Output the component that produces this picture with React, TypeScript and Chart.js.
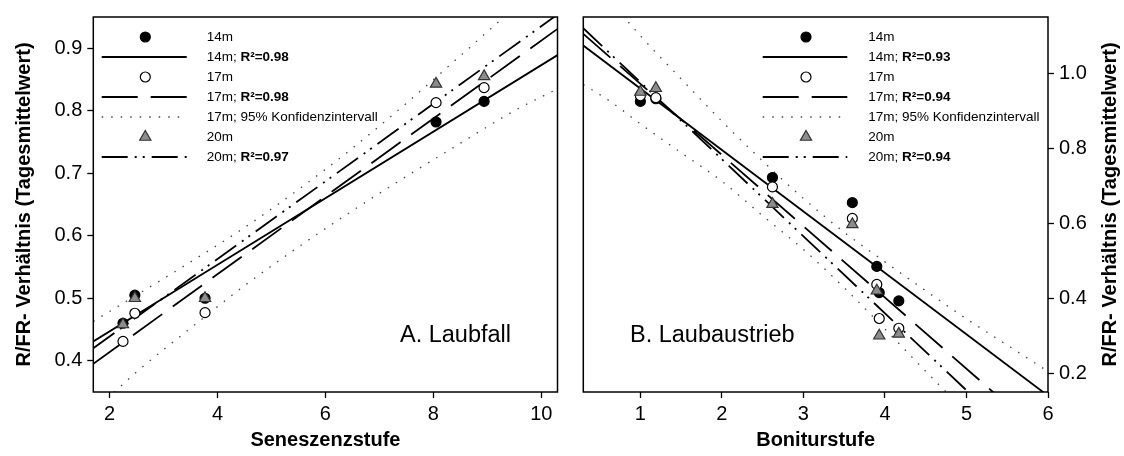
import React, { useEffect, useRef } from "react";
import { Chart, registerables } from "chart.js";

Chart.register(...registerables);

const FONT = "'Liberation Sans', Arial, Helvetica, sans-serif";

// ---------------- Panel A: Laubfall ----------------
const A_X = [2.25, 2.47, 3.77, 8.05, 8.94];
const A_14M = [0.46, 0.505, 0.5, 0.782, 0.815];
const A_17M = [0.431, 0.476, 0.477, 0.813, 0.837];
const A_20M = [0.458, 0.5, 0.5, 0.843, 0.855];
const A_FIT_X = [1.7, 10.3];
const A_FIT_14M = [0.431, 0.889];
const A_FIT_17M = [0.395, 0.931];
const A_FIT_20M = [0.42, 0.954];
const A_CI_X = [1.7, 2.5, 3.5, 4.5, 5.5, 6.5, 7.5, 8.5, 9.5, 10.3];
const A_CI_UP = [0.463, 0.505, 0.558, 0.613, 0.674, 0.74, 0.812, 0.888, 0.965, 1.027];
const A_CI_LO = [0.318, 0.382, 0.452, 0.52, 0.582, 0.64, 0.695, 0.748, 0.8, 0.835];
const A_R2 = ["0.98", "0.98", "0.97"];
const A_X_TICKS = [2, 4, 6, 8, 10];
const A_Y_TICKS = [0.4, 0.5, 0.6, 0.7, 0.8, 0.9];
const A_X_RANGE = [1.7, 10.3];
const A_Y_RANGE = [0.35, 0.95];

// ---------------- Panel B: Laubaustrieb ----------------
const B_X = [1.0, 1.19, 2.62, 3.6, 3.9, 3.93, 4.17];
const B_14M = [0.925, 0.932, 0.722, 0.655, 0.485, 0.415, 0.393];
const B_17M = [0.94, 0.935, 0.697, 0.613, 0.437, 0.346, 0.32];
const B_20M = [0.95, 0.96, 0.651, 0.597, 0.42, 0.3, 0.305];
const B_FIT_X = [0.3, 6.0];
const B_FIT_14M = [1.074, 0.14];
const B_FIT_17M = [1.105, 0.022];
const B_FIT_20M = [1.12, -0.051];
const B_CI_UP_X = [0.7, 1.0, 1.5, 2.0, 2.5, 3.0, 3.5, 4.0, 4.5, 5.0, 5.5, 6.0];
const B_CI_UP = [1.175, 1.1, 0.985, 0.872, 0.766, 0.666, 0.576, 0.497, 0.42, 0.345, 0.275, 0.205];
const B_CI_LO_X = [0.3, 0.63, 1.0, 1.5, 2.0, 2.5, 3.0, 3.5, 4.0, 4.5, 4.75, 5.0];
const B_CI_LO = [0.97, 0.925, 0.865, 0.788, 0.712, 0.62, 0.53, 0.428, 0.318, 0.205, 0.15, 0.095];
const B_R2 = ["0.93", "0.94", "0.94"];
const B_X_TICKS = [1, 2, 3, 4, 5, 6];
const B_Y_TICKS = [0.2, 0.4, 0.6, 0.8, 1.0];
const B_X_RANGE = [0.3, 6.0];
const B_Y_RANGE = [0.15, 1.15];

const Y_TITLE = "R/FR- Verhältnis (Tagesmittelwert)";

// ---------------- styles ----------------
type Marker = { style: "circle" | "triangle"; r: number; bg: string; border: string };
const M14: Marker = { style: "circle", r: 5, bg: "#000", border: "#000" };
const M17: Marker = { style: "circle", r: 5, bg: "#fff", border: "#000" };
const M20: Marker = { style: "triangle", r: 6.5, bg: "#8c8c8c", border: "#333" };
const L_SOLID = { dash: [] as number[], width: 1.8, color: "#000" };
const L_17 = { dash: [36, 13], width: 1.8, color: "#000" };
const L_20 = { dash: [26, 7, 2, 6, 2, 7], width: 1.8, color: "#000" };
const L_CI = { dash: [1.5, 8], width: 1.3, color: "#444" };

const pts = (xs: number[], ys: number[]) => xs.map((x, i) => ({ x, y: ys[i] }));

const scatterDs = (label: string, xs: number[], ys: number[], m: Marker, order: number) => ({
  label,
  data: pts(xs, ys),
  showLine: false,
  pointStyle: m.style,
  pointRadius: m.r,
  pointHoverRadius: m.r,
  pointBackgroundColor: m.bg,
  pointBorderColor: m.border,
  pointBorderWidth: 1.2,
  order,
});

const lineDs = (label: string, xs: number[], ys: number[], l: any, order: number) => ({
  label,
  data: pts(xs, ys),
  showLine: true,
  pointRadius: 0,
  pointHoverRadius: 0,
  borderColor: l.color,
  borderWidth: l.width,
  borderDash: l.dash,
  fill: false,
  cubicInterpolationMode: "monotone",
  order,
});

function drawMarker(ctx: CanvasRenderingContext2D, x: number, y: number, m: Marker) {
  ctx.save();
  ctx.beginPath();
  if (m.style === "circle") {
    ctx.arc(x, y, m.r, 0, Math.PI * 2);
  } else {
    let rad = 0;
    const T = (Math.PI * 2) / 3;
    ctx.moveTo(x + Math.sin(rad) * m.r, y - Math.cos(rad) * m.r);
    rad += T;
    ctx.lineTo(x + Math.sin(rad) * m.r, y - Math.cos(rad) * m.r);
    rad += T;
    ctx.lineTo(x + Math.sin(rad) * m.r, y - Math.cos(rad) * m.r);
    ctx.closePath();
  }
  ctx.fillStyle = m.bg;
  ctx.fill();
  ctx.lineWidth = 1.2;
  ctx.strokeStyle = m.border;
  ctx.stroke();
  ctx.restore();
}

type Panel = {
  x: number[]; s14: number[]; s17: number[]; s20: number[];
  fitX: number[]; f14: number[]; f17: number[]; f20: number[];
  ciUpX: number[]; ciUp: number[]; ciLoX: number[]; ciLo: number[];
  r2: string[]; xTicks: number[]; yTicks: number[]; xRange: number[]; yRange: number[];
  xTitle: string; yPos: "left" | "right"; label: string; labelX: number;
  legMarkX: number; legLine: number[]; legTextX: number;
  canvasLeft: number; canvasWidth: number; padding: any; yWidth: number; rightTitleX?: number;
};

const PANEL_A: Panel = {
  x: A_X, s14: A_14M, s17: A_17M, s20: A_20M,
  fitX: A_FIT_X, f14: A_FIT_14M, f17: A_FIT_17M, f20: A_FIT_20M,
  ciUpX: A_CI_X, ciUp: A_CI_UP, ciLoX: A_CI_X, ciLo: A_CI_LO,
  r2: A_R2, xTicks: A_X_TICKS, yTicks: A_Y_TICKS, xRange: A_X_RANGE, yRange: A_Y_RANGE,
  xTitle: "Seneszenzstufe", yPos: "left", label: "A. Laubfall", labelX: 306.7,
  legMarkX: 52, legLine: [8.4, 93.4], legTextX: 113.4,
  canvasLeft: 0, canvasWidth: 570, padding: { top: 13, left: 0, right: 12.5, bottom: 0 }, yWidth: 93.3,
};

const PANEL_B: Panel = {
  x: B_X, s14: B_14M, s17: B_17M, s20: B_20M,
  fitX: B_FIT_X, f14: B_FIT_14M, f17: B_FIT_17M, f20: B_FIT_20M,
  ciUpX: B_CI_UP_X, ciUp: B_CI_UP, ciLoX: B_CI_LO_X, ciLo: B_CI_LO,
  r2: B_R2, xTicks: B_X_TICKS, yTicks: B_Y_TICKS, xRange: B_X_RANGE, yRange: B_Y_RANGE,
  xTitle: "Boniturstufe", yPos: "right", label: "B. Laubaustrieb", labelX: 46.7,
  legMarkX: 222.7, legLine: [179.4, 264], legTextX: 285,
  canvasLeft: 570, canvasWidth: 554, padding: { top: 13, left: 13.3, right: 0, bottom: 0 }, yWidth: 76,
  rightTitleX: 540,
};

function buildConfig(p: Panel): any {
  const legendRows: any[] = [
    { marker: M14, text: [["14m", false]] },
    { line: L_SOLID, text: [["14m; ", false], ["R²=" + p.r2[0], true]] },
    { marker: M17, text: [["17m", false]] },
    { line: L_17, text: [["17m; ", false], ["R²=" + p.r2[1], true]] },
    { line: L_CI, text: [["17m; 95% Konfidenzintervall", false]] },
    { marker: M20, text: [["20m", false]] },
    { line: L_20, text: [["20m; ", false], ["R²=" + p.r2[2], true]] },
  ];

  const decor = {
    id: "decor",
    afterDraw(chart: any) {
      const ctx: CanvasRenderingContext2D = chart.ctx;
      const a = chart.chartArea;
      // frame
      ctx.save();
      ctx.strokeStyle = "#000";
      ctx.lineWidth = 1.5;
      ctx.strokeRect(a.left, a.top, a.right - a.left, a.bottom - a.top);
      ctx.restore();
      // legend
      legendRows.forEach((row, i) => {
        const y = a.top + 20 + 20 * i;
        if (row.marker) {
          drawMarker(ctx, a.left + p.legMarkX, y, row.marker);
        } else {
          ctx.save();
          ctx.setLineDash(row.line.dash);
          ctx.lineWidth = row.line.width;
          ctx.strokeStyle = row.line.color;
          ctx.beginPath();
          ctx.moveTo(a.left + p.legLine[0], y);
          ctx.lineTo(a.left + p.legLine[1], y);
          ctx.stroke();
          ctx.restore();
        }
        let tx = a.left + p.legTextX;
        ctx.save();
        ctx.textBaseline = "middle";
        ctx.textAlign = "left";
        ctx.fillStyle = "#000";
        row.text.forEach(([t, b]: [string, boolean]) => {
          ctx.font = `${b ? "bold " : ""}13.5px ${FONT}`;
          ctx.fillText(t, tx, y);
          tx += ctx.measureText(t).width;
        });
        ctx.restore();
      });
      // panel label
      ctx.save();
      ctx.font = `23.5px ${FONT}`;
      ctx.fillStyle = "#000";
      ctx.textAlign = "left";
      ctx.textBaseline = "alphabetic";
      ctx.fillText(p.label, a.left + p.labelX, 341.7);
      ctx.restore();
      // right-side y title (reads bottom to top)
      if (p.rightTitleX !== undefined) {
        ctx.save();
        ctx.translate(p.rightTitleX, (a.top + a.bottom) / 2);
        ctx.rotate(-Math.PI / 2);
        ctx.font = `bold 20px ${FONT}`;
        ctx.fillStyle = "#000";
        ctx.textAlign = "center";
        ctx.textBaseline = "middle";
        ctx.fillText(Y_TITLE, 0, 0);
        ctx.restore();
      }
    },
  };

  const gridOpts = {
    drawOnChartArea: false,
    drawTicks: true,
    tickLength: 6,
    tickColor: "#000",
    tickWidth: 1.3,
    color: "#000",
  };

  return {
    type: "scatter",
    data: {
      datasets: [
        scatterDs("20m", p.x, p.s20, M20, 0),
        scatterDs("17m", p.x, p.s17, M17, 1),
        scatterDs("14m", p.x, p.s14, M14, 2),
        lineDs("14m fit", p.fitX, p.f14, L_SOLID, 3),
        lineDs("17m fit", p.fitX, p.f17, L_17, 4),
        lineDs("20m fit", p.fitX, p.f20, L_20, 5),
        lineDs("17m KI oben", p.ciUpX, p.ciUp, L_CI, 6),
        lineDs("17m KI unten", p.ciLoX, p.ciLo, L_CI, 7),
      ],
    },
    options: {
      animation: false,
      responsive: false,
      events: [],
      layout: { padding: p.padding },
      plugins: { legend: { display: false }, tooltip: { enabled: false }, title: { display: false } },
      scales: {
        x: {
          type: "linear",
          min: p.xRange[0],
          max: p.xRange[1],
          afterBuildTicks: (s: any) => {
            s.ticks = p.xTicks.map((v) => ({ value: v }));
          },
          afterFit: (s: any) => {
            s.height = 64;
          },
          ticks: {
            color: "#000",
            font: { family: FONT, size: 20 },
            padding: 4,
            maxRotation: 0,
            autoSkip: false,
            callback: (v: any) => String(v),
          },
          grid: gridOpts,
          border: { display: false },
          title: {
            display: true,
            text: p.xTitle,
            color: "#000",
            font: { family: FONT, size: 20, weight: "bold" },
            padding: { top: 0, bottom: 4 },
          },
        },
        y: {
          type: "linear",
          position: p.yPos,
          min: p.yRange[0],
          max: p.yRange[1],
          afterBuildTicks: (s: any) => {
            s.ticks = p.yTicks.map((v) => ({ value: v }));
          },
          afterFit: (s: any) => {
            s.width = p.yWidth;
          },
          ticks: {
            color: "#000",
            font: { family: FONT, size: 20 },
            padding: 5,
            autoSkip: false,
            callback: (v: any) => Number(v).toFixed(1),
          },
          grid: gridOpts,
          border: { display: false },
          title: {
            display: p.yPos === "left",
            text: Y_TITLE,
            color: "#000",
            font: { family: FONT, size: 20, weight: "bold" },
            padding: { top: 12, bottom: 0 },
          },
        },
      },
    },
    plugins: [decor],
  };
}

function PanelChart({ p }: { p: Panel }) {
  const ref = useRef<HTMLCanvasElement>(null);
  useEffect(() => {
    const chart = new Chart(ref.current as HTMLCanvasElement, buildConfig(p));
    return () => chart.destroy();
  }, [p]);
  return (
    <canvas
      ref={ref}
      width={p.canvasWidth}
      height={456}
      style={{ position: "absolute", left: p.canvasLeft, top: 0, width: p.canvasWidth, height: 456 }}
    />
  );
}

export default function App() {
  return (
    <div style={{ position: "absolute", left: 0, top: 0, width: 1124, height: 456, background: "#fff", overflow: "hidden" }}>
      <PanelChart p={PANEL_A} />
      <PanelChart p={PANEL_B} />
    </div>
  );
}
